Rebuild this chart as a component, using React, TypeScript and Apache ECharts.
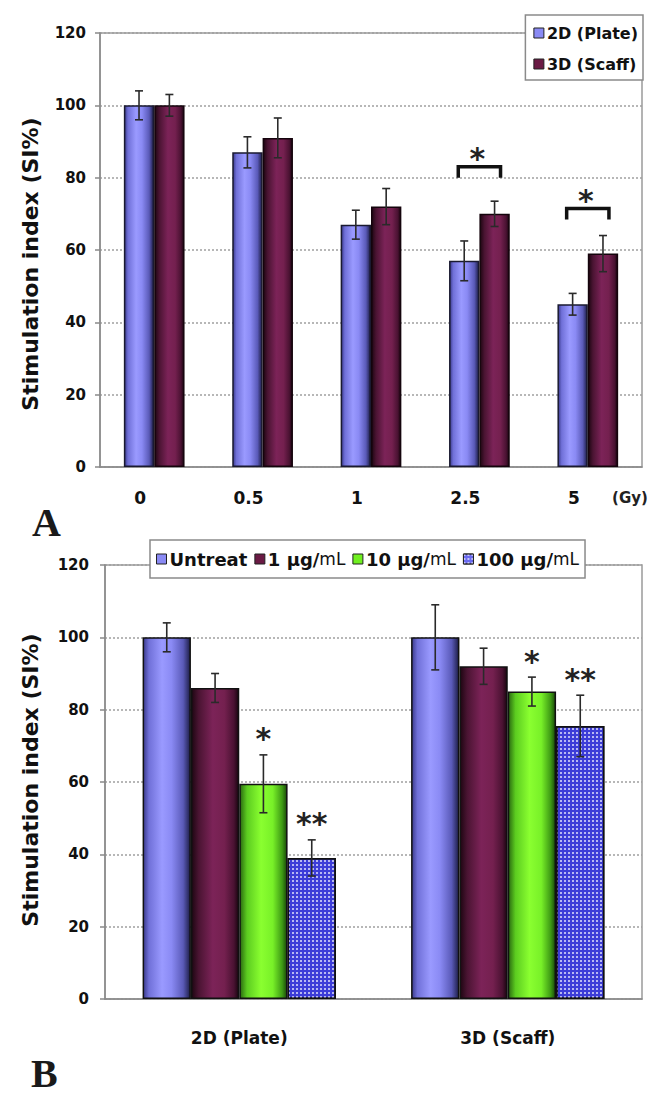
import React, { useEffect, useRef } from "react";
import * as echarts from "echarts";

// ---------- Panel A data ----------
const doseCats = ["0", "0.5", "1", "2.5", "5"];
const plate2D = [100, 87, 67, 57, 45];
const plate2DErr = [4, 4.3, 4, 5.5, 3];
const scaff3D = [100, 91, 72, 70, 59];
const scaff3DErr = [3, 5.5, 5, 3.5, 5];
const sigCatsA = [3, 4];
const sigLevelsA = [83, 71.5];
const sigMarksA = ["*", "*"];

// ---------- Panel B data ----------
const cultureCats = ["2D (Plate)", "3D (Scaff)"];
const untreat = [100, 100];
const untreatErr = [4, 9];
const ug1 = [86, 92];
const ug1Err = [4, 5];
const ug10 = [59.5, 85];
const ug10Err = [8, 4];
const ug100 = [39, 75.5];
const ug100Err = [5, 8.5];
const marks10 = ["*", "*"];
const marks100 = ["**", "**"];

const yTicks = { min: 0, max: 120, interval: 20 };

const FONT = "DejaVu Sans";

const grad = (stops: [number, string][]) =>
  new echarts.graphic.LinearGradient(
    0,
    0,
    1,
    0,
    stops.map(([offset, color]) => ({ offset, color }))
  );

const blueGrad = () =>
  grad([
    [0, "#3a3a8c"],
    [0.12, "#7070d8"],
    [0.4, "#9a9aff"],
    [0.6, "#8a8af4"],
    [0.85, "#5a5ab8"],
    [1, "#1e1e48"],
  ]);
const maroonGrad = () =>
  grad([
    [0, "#1e0612"],
    [0.15, "#4a1432"],
    [0.45, "#7c2358"],
    [0.7, "#74204f"],
    [0.9, "#4a1232"],
    [1, "#1a0510"],
  ]);
const greenGrad = () =>
  grad([
    [0, "#2a6a10"],
    [0.15, "#5ccc20"],
    [0.45, "#8aff30"],
    [0.7, "#78f028"],
    [0.9, "#3e9a14"],
    [1, "#1a4a08"],
  ]);

function errorSeries(
  values: number[],
  errs: number[],
  idx: number,
  n: number,
  pct: number,
  axisIndex: number
) {
  return {
    type: "custom",
    name: "err" + axisIndex + "_" + idx,
    xAxisIndex: axisIndex,
    yAxisIndex: axisIndex,
    z: 5,
    silent: true,
    encode: { x: 0, y: 1 },
    data: values.map((v, i) => [i, v, errs[i]]),
    renderItem: (params: any, api: any) => {
      const cat = api.value(0);
      const v = api.value(1);
      const e = api.value(2);
      const bw = api.size([1, 0])[0];
      const barW = bw * pct;
      const x = api.coord([cat, v])[0] + (idx - (n - 1) / 2) * barW;
      const yT = api.coord([cat, v + e])[1];
      const yB = api.coord([cat, v - e])[1];
      const cap = 4;
      const st = { stroke: "#2a2a2a", lineWidth: 1.6 };
      return {
        type: "group",
        children: [
          { type: "line", shape: { x1: x, y1: yT, x2: x, y2: yB }, style: st },
          { type: "line", shape: { x1: x - cap, y1: yT, x2: x + cap, y2: yT }, style: st },
          { type: "line", shape: { x1: x - cap, y1: yB, x2: x + cap, y2: yB }, style: st },
        ],
      };
    },
  };
}

export default function App() {
  const ref = useRef<HTMLDivElement>(null);
  useEffect(() => {
    if (!ref.current) return;
    const chart = echarts.init(ref.current, undefined, { renderer: "svg" });
    const pctA = 0.28;
    const pctB = 0.18;

    const yAxisCommon = (labelMargin: number) => ({
      type: "value",
      ...yTicks,
      axisLine: { show: true, lineStyle: { color: "#8a8a8a", width: 1.5 } },
      axisTick: { show: true, length: 5, lineStyle: { color: "#8a8a8a", width: 1.5 } },
      axisLabel: {
        margin: labelMargin,
        fontFamily: FONT,
        fontWeight: "bold",
        fontSize: 15,
        color: "#111",
      },
      splitLine: {
        show: true,
        lineStyle: { color: "#a0a0a0", type: [2, 2], width: 1.5 },
      },
    });

    const option: any = {
      animation: false,
      backgroundColor: "#ffffff",
      grid: [
        {
          left: 100,
          top: 33,
          right: 19,
          bottom: 638,
          show: true,
          borderColor: "#9a9a9a",
          borderWidth: 1.5,
          backgroundColor: "transparent",
        },
        {
          left: 105,
          top: 565,
          right: 19,
          bottom: 106,
          show: true,
          borderColor: "#9a9a9a",
          borderWidth: 1.5,
          backgroundColor: "transparent",
        },
      ],
      xAxis: [
        {
          type: "category",
          gridIndex: 0,
          data: doseCats,
          axisLine: { lineStyle: { color: "#8a8a8a", width: 1.5 } },
          axisTick: { length: 4, lineStyle: { color: "#8a8a8a" } },
          axisLabel: {
            margin: 22,
            padding: [0, 28, 0, 0],
            fontFamily: FONT,
            fontWeight: "bold",
            fontSize: 17,
            color: "#111",
          },
        },
        {
          type: "category",
          gridIndex: 1,
          data: cultureCats,
          axisLine: { lineStyle: { color: "#8a8a8a", width: 1.5 } },
          axisTick: { length: 4, lineStyle: { color: "#8a8a8a" } },
          axisLabel: {
            margin: 30,
            fontFamily: FONT,
            fontWeight: "bold",
            fontSize: 17,
            color: "#111",
          },
        },
      ],
      yAxis: [
        { gridIndex: 0, ...yAxisCommon(14) },
        { gridIndex: 1, ...yAxisCommon(16) },
      ],
      legend: [
        {
          data: [
            { name: "2D (Plate)", icon: "rect", itemStyle: { color: "#8a8af4", borderColor: "#222", borderWidth: 1 } },
            { name: "3D (Scaff)", icon: "rect", itemStyle: { color: "#6a1a44", borderColor: "#222", borderWidth: 1 } },
          ],
          orient: "vertical",
          right: 18,
          top: 15,
          itemWidth: 10,
          itemHeight: 10,
          itemGap: 13,
          padding: [9, 5, 7, 8],
          backgroundColor: "#fff",
          borderColor: "#8a8a8a",
          borderWidth: 1.5,
          textStyle: {
            fontFamily: FONT,
            fontWeight: "bold",
            fontSize: 16,
            lineHeight: 18,
            color: "#111",
            padding: [0, 0, 0, -2],
          },
          selectedMode: false,
        },
        {
          data: [
            { name: "Untreat", icon: "rect", itemStyle: { color: "#8a8af4", borderColor: "#222", borderWidth: 1 } },
            { name: "1 µg/mL", icon: "rect", itemStyle: { color: "#6a1a44", borderColor: "#222", borderWidth: 1 } },
            { name: "10 µg/mL", icon: "rect", itemStyle: { color: "#70f020", borderColor: "#222", borderWidth: 1 } },
            { name: "100 µg/mL", icon: "rect", itemStyle: { color: "#6a6af0", borderColor: "#222", borderWidth: 1 } },
          ],
          orient: "horizontal",
          left: 150,
          top: 540,
          itemWidth: 10,
          itemHeight: 10,
          itemGap: 7,
          padding: [10, 6, 10, 6],
          backgroundColor: "#fff",
          borderColor: "#8a8a8a",
          borderWidth: 1.5,
          selectedMode: false,
          formatter: (name: string) =>
            name.endsWith("mL") ? `{b|${name.slice(0, -2)}}{n|mL}` : `{b|${name}}`,
          textStyle: {
            padding: [0, 0, 0, -2],
            rich: {
              b: { fontFamily: FONT, fontWeight: "bold", fontSize: 18, color: "#111" },
              n: { fontFamily: FONT, fontWeight: "normal", fontSize: 17, color: "#111" },
            },
          },
        },
      ],
      graphic: [
        {
          type: "text",
          x: 30,
          y: 264,
          rotation: Math.PI / 2,
          style: {
            text: "Stimulation index (SI%)",
            font: `bold 22px '${FONT}'`,
            fill: "#111",
            align: "center",
            verticalAlign: "middle",
          },
        },
        {
          type: "text",
          x: 30,
          y: 780,
          rotation: Math.PI / 2,
          style: {
            text: "Stimulation index (SI%)",
            font: `bold 22px '${FONT}'`,
            fill: "#111",
            align: "center",
            verticalAlign: "middle",
          },
        },
        {
          type: "text",
          x: 630,
          y: 498,
          style: {
            text: "(Gy)",
            font: `bold 15px '${FONT}'`,
            fill: "#222",
            align: "center",
            verticalAlign: "middle",
          },
        },
        {
          type: "text",
          x: 32,
          y: 522,
          style: {
            text: "A",
            font: `bold 40px 'Liberation Serif'`,
            fill: "#1a1a1a",
            align: "left",
            verticalAlign: "middle",
          },
        },
        {
          type: "text",
          x: 31,
          y: 1073,
          style: {
            text: "B",
            font: `bold 40px 'Liberation Serif'`,
            fill: "#1a1a1a",
            align: "left",
            verticalAlign: "middle",
          },
        },
      ],
      series: [
        // ----- Panel A -----
        {
          name: "2D (Plate)",
          type: "bar",
          xAxisIndex: 0,
          yAxisIndex: 0,
          barWidth: pctA * 100 + "%",
          barGap: "0%",
          data: plate2D,
          itemStyle: { color: blueGrad(), borderColor: "#1a1a30", borderWidth: 1.5 },
        },
        {
          name: "3D (Scaff)",
          type: "bar",
          xAxisIndex: 0,
          yAxisIndex: 0,
          barWidth: pctA * 100 + "%",
          barGap: "0%",
          data: scaff3D,
          itemStyle: { color: maroonGrad(), borderColor: "#14040c", borderWidth: 1.5 },
        },
        errorSeries(plate2D, plate2DErr, 0, 2, pctA, 0),
        errorSeries(scaff3D, scaff3DErr, 1, 2, pctA, 0),
        {
          type: "custom",
          name: "sigA",
          xAxisIndex: 0,
          yAxisIndex: 0,
          z: 6,
          silent: true,
          encode: { x: 0, y: 1 },
          data: sigCatsA.map((c, i) => [c, sigLevelsA[i]]),
          renderItem: (params: any, api: any) => {
            const cat = api.value(0);
            const lvl = api.value(1);
            const bw = api.size([1, 0])[0];
            const [cx, y] = api.coord([cat, lvl]);
            const half = bw * 0.195;
            const leg = 11;
            return {
              type: "group",
              children: [
                {
                  type: "polyline",
                  shape: {
                    points: [
                      [cx - half, y + leg],
                      [cx - half, y],
                      [cx + half, y],
                      [cx + half, y + leg],
                    ],
                  },
                  style: { stroke: "#111", lineWidth: 3.5, fill: null },
                },
                {
                  type: "text",
                  x: cx - 2,
                  y: y - 8,
                  style: {
                    text: sigMarksA[params.dataIndex],
                    font: `bold 30px '${FONT}'`,
                    fill: "#222",
                    align: "center",
                    verticalAlign: "middle",
                  },
                },
              ],
            };
          },
        },
        // ----- Panel B -----
        {
          name: "Untreat",
          type: "bar",
          xAxisIndex: 1,
          yAxisIndex: 1,
          barWidth: pctB * 100 + "%",
          barGap: "0%",
          data: untreat,
          itemStyle: { color: blueGrad(), borderColor: "#111", borderWidth: 1.5 },
        },
        {
          name: "1 µg/mL",
          type: "bar",
          xAxisIndex: 1,
          yAxisIndex: 1,
          barWidth: pctB * 100 + "%",
          barGap: "0%",
          data: ug1,
          itemStyle: { color: maroonGrad(), borderColor: "#111", borderWidth: 1.5 },
        },
        {
          name: "10 µg/mL",
          type: "bar",
          xAxisIndex: 1,
          yAxisIndex: 1,
          barWidth: pctB * 100 + "%",
          barGap: "0%",
          data: ug10,
          itemStyle: { color: greenGrad(), borderColor: "#111", borderWidth: 1.5 },
        },
        {
          name: "100 µg/mL",
          type: "bar",
          xAxisIndex: 1,
          yAxisIndex: 1,
          barWidth: pctB * 100 + "%",
          barGap: "0%",
          data: ug100,
          itemStyle: {
            color: "#3c3cd8",
            borderColor: "#111",
            borderWidth: 1.5,
            decal: {
              symbol: "rect",
              symbolSize: 1,
              color: "rgba(235,235,255,0.7)",
              dashArrayX: [2, 2],
              dashArrayY: [2, 2],
              rotation: 0,
            },
          },
        },
        errorSeries(untreat, untreatErr, 0, 4, pctB, 1),
        errorSeries(ug1, ug1Err, 1, 4, pctB, 1),
        errorSeries(ug10, ug10Err, 2, 4, pctB, 1),
        errorSeries(ug100, ug100Err, 3, 4, pctB, 1),
        {
          type: "custom",
          name: "sigB",
          xAxisIndex: 1,
          yAxisIndex: 1,
          z: 6,
          silent: true,
          encode: { x: 0, y: 1 },
          data: [
            ...ug10.map((v, i) => [i, v + ug10Err[i], 2]),
            ...ug100.map((v, i) => [i, v + ug100Err[i], 3]),
          ],
          renderItem: (params: any, api: any) => {
            const cat = api.value(0);
            const top = api.value(1);
            const s = api.value(2);
            const raw =
              params.dataIndex < ug10.length
                ? marks10[params.dataIndex]
                : marks100[params.dataIndex - ug10.length];
            const bw = api.size([1, 0])[0];
            const barW = bw * pctB;
            const [cx0, y] = api.coord([cat, top]);
            const cx = cx0 + (s - 1.5) * barW;
            return {
              type: "text",
              x: cx,
              y: y - 16,
              style: {
                text: raw,
                font: `bold 30px '${FONT}'`,
                fill: "#222",
                align: "center",
                verticalAlign: "middle",
              },
            };
          },
        },
      ],
    };
    chart.setOption(option);
    return () => chart.dispose();
  }, []);
  return (
    <div
      ref={ref}
      style={{ position: "absolute", left: 0, top: 0, width: 661, height: 1105 }}
    />
  );
}
